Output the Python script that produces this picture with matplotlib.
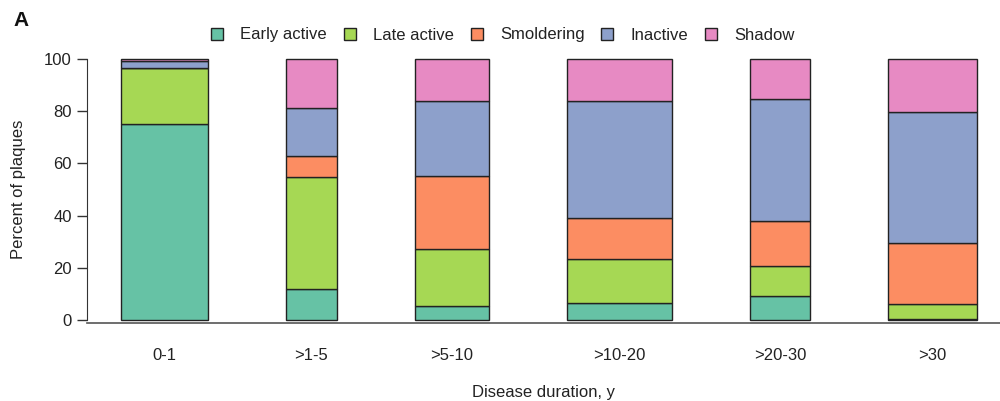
import matplotlib
matplotlib.use("Agg")
import matplotlib.pyplot as plt
import numpy as np

plt.rcParams['font.family'] = ['Liberation Sans', 'DejaVu Sans']

categories = ['0-1', '>1-5', '>5-10', '>10-20', '>20-30', '>30']
series_names = ['Early active', 'Late active', 'Smoldering', 'Inactive', 'Shadow']
early = [75.0, 11.8, 5.5, 6.6, 9.3, 0.3]
late = [21.6, 43.1, 21.7, 16.8, 11.3, 5.7]
smoldering = [0.0, 8.0, 27.8, 15.8, 17.4, 23.4]
inactive = [2.8, 18.3, 29.0, 44.6, 46.8, 50.3]
shadow = [0.6, 18.8, 16.0, 16.2, 15.2, 20.3]
# relative bar widths (vary by group)
bar_widths = [0.867, 0.51, 0.747, 1.047, 0.607, 0.89]

colors = ['#66C2A5', '#A6D854', '#FC8D62', '#8DA0CB', '#E78AC3']
series = [early, late, smoldering, inactive, shadow]

W, H = 1000, 401
fig = plt.figure(figsize=(W / 100, H / 100), dpi=100)

# layout: R-style barplot, gap = mean width, 4% padding
widths = np.array(bar_widths)
gap = widths.mean()
lefts = []
x = gap
for w in widths:
    lefts.append(x)
    x += w + gap
lefts = np.array(lefts)
rights = lefts + widths
rng = rights[-1] - lefts[0]
xlo = lefts[0] - 0.04 * rng
xhi = rights[-1] + 0.04 * rng
centers = lefts + widths / 2

ax_left_px, ax_bottom_px, ax_top_px = 87, 322.7, 55
y0_px, y100_px = 320, 59
ppu = (y0_px - y100_px) / 100.0
ylo = -(ax_bottom_px - y0_px) / ppu
yhi = 100 + (y100_px - ax_top_px) / ppu
ax_w_px = (xhi - xlo) * 100
ax = fig.add_axes([ax_left_px / W, 1 - ax_bottom_px / H, ax_w_px / W, (ax_bottom_px - ax_top_px) / H])

bottom = np.zeros(len(categories))
for name, vals, c in zip(series_names, series, colors):
    vals = np.array(vals)
    ax.bar(centers, vals, width=widths, bottom=bottom, color=c, edgecolor='#222222',
           linewidth=1.0, label=name, align='center')
    bottom += vals

ax.set_xlim(xlo, xhi)
ax.set_ylim(ylo, yhi)
ax.spines['top'].set_visible(False)
ax.spines['right'].set_visible(False)
ax.spines['left'].set_bounds(0, 100)
ax.spines['left'].set_color('#333333')
ax.spines['bottom'].set_color('#555555')
ax.spines['bottom'].set_linewidth(1.2)
ax.set_yticks([0, 20, 40, 60, 80, 100])
ax.tick_params(axis='y', length=7, width=1, color='#333333', labelsize=12, labelcolor='#222222', pad=4)
ax.set_xticks(centers)
ax.set_xticklabels(categories)
ax.tick_params(axis='x', length=0, labelsize=12, labelcolor='#222222', pad=18)

ax.set_ylabel('Percent of plaques', fontsize=12, color='#222222')
ax.yaxis.set_label_coords((26 - ax_left_px) / ax_w_px, 0.5)
fig.text(543 / W, 1 - 393 / H, 'Disease duration, y', ha='center', va='center',
         fontsize=12, color='#222222')
fig.text(13 / W, 1 - 21 / H, 'A', ha='left', va='center', fontsize=15,
         fontweight='bold', color='#111111')

handles, labels = ax.get_legend_handles_labels()
leg = fig.legend(handles, labels, loc='center', bbox_to_anchor=(503 / W, 1 - 35 / H), ncol=5,
                 frameon=False, fontsize=12, handlelength=0.72, handleheight=0.72,
                 handletextpad=1.05, columnspacing=1.0, borderaxespad=0)
for t in leg.get_texts():
    t.set_color('#222222')

fig.savefig('out.png', dpi=100)
